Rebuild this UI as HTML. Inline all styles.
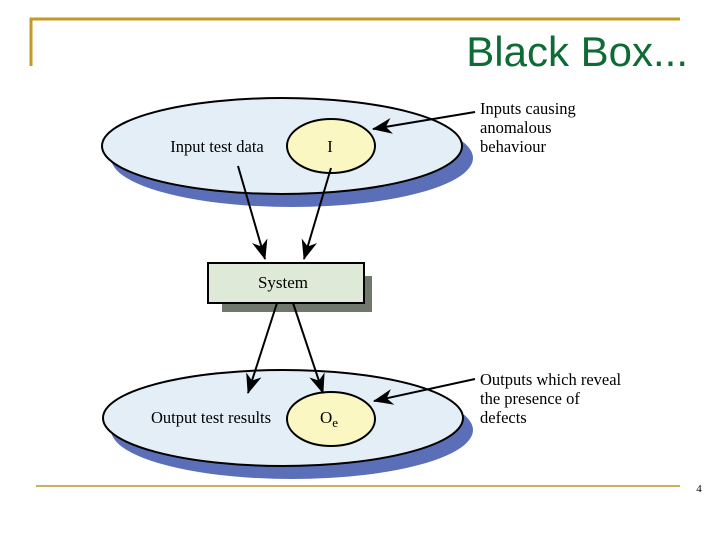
<!DOCTYPE html>
<html><head><style>
html,body{margin:0;padding:0;background:#fff;width:720px;height:540px;overflow:hidden}
</style></head><body>
<svg width="720" height="540" viewBox="0 0 720 540" xmlns="http://www.w3.org/2000/svg">
<defs>
<marker id="ah2" markerWidth="20" markerHeight="16" refX="19" refY="8" orient="auto" markerUnits="userSpaceOnUse">
<path d="M0,0 L20,8 L0,16 L6,8 Z" fill="#000"/>
</marker>
</defs>
<line x1="30" y1="19" x2="680" y2="19" stroke="#c49a22" stroke-width="3"/>
<line x1="31" y1="18" x2="31" y2="66" stroke="#c49a22" stroke-width="3"/>
<text x="688" y="66" text-anchor="end" font-family="Liberation Sans, sans-serif" font-size="42" fill="#0f6b35">Black Box...</text>
<line x1="36" y1="486" x2="680" y2="486" stroke="#c8b060" stroke-width="2"/>
<text x="699" y="492" text-anchor="middle" font-family="Liberation Serif, serif" font-size="11" fill="#000">4</text>

<ellipse cx="292" cy="158" rx="181" ry="49" fill="#5b6eb8"/>
<ellipse cx="282" cy="146" rx="180" ry="48" fill="#e3eef7" stroke="#000" stroke-width="2"/>
<ellipse cx="331" cy="146" rx="44" ry="27" fill="#fbf7c2" stroke="#000" stroke-width="2"/>
<text x="217" y="152" text-anchor="middle" font-family="Liberation Serif, serif" font-size="16.5">Input test data</text>
<text x="330" y="152" text-anchor="middle" font-family="Liberation Serif, serif" font-size="16.5">I</text>

<ellipse cx="292" cy="430" rx="181" ry="49" fill="#5b6eb8"/>
<ellipse cx="283" cy="418" rx="180" ry="48" fill="#e3eef7" stroke="#000" stroke-width="2"/>
<ellipse cx="331" cy="419" rx="44" ry="27" fill="#fbf7c2" stroke="#000" stroke-width="2"/>
<text x="211" y="423" text-anchor="middle" font-family="Liberation Serif, serif" font-size="16.5">Output test results</text>
<text x="320" y="423" font-family="Liberation Serif, serif" font-size="17">O<tspan font-size="13" dy="4">e</tspan></text>

<rect x="222" y="276" width="150" height="36" fill="#6f786a"/>
<rect x="208" y="263" width="156" height="40" fill="#dfe9d8" stroke="#000" stroke-width="2"/>
<text x="283" y="288" text-anchor="middle" font-family="Liberation Serif, serif" font-size="17">System</text>

<g stroke="#000" stroke-width="2" fill="none">
<line x1="238" y1="166" x2="265" y2="259" marker-end="url(#ah2)"/>
<line x1="331" y1="168" x2="304" y2="259" marker-end="url(#ah2)"/>
<line x1="277" y1="303" x2="248" y2="393" marker-end="url(#ah2)"/>
<line x1="293" y1="303" x2="323" y2="393" marker-end="url(#ah2)"/>
<line x1="475" y1="112" x2="373" y2="129" marker-end="url(#ah2)"/>
<line x1="475" y1="379" x2="374" y2="401" marker-end="url(#ah2)"/>
</g>

<g font-family="Liberation Serif, serif" font-size="16.5" fill="#000">
<text x="480" y="114">Inputs causing</text>
<text x="480" y="133">anomalous</text>
<text x="480" y="152">behaviour</text>
<text x="480" y="385">Outputs which reveal</text>
<text x="480" y="404">the presence of</text>
<text x="480" y="423">defects</text>
</g>
</svg>
</body></html>
